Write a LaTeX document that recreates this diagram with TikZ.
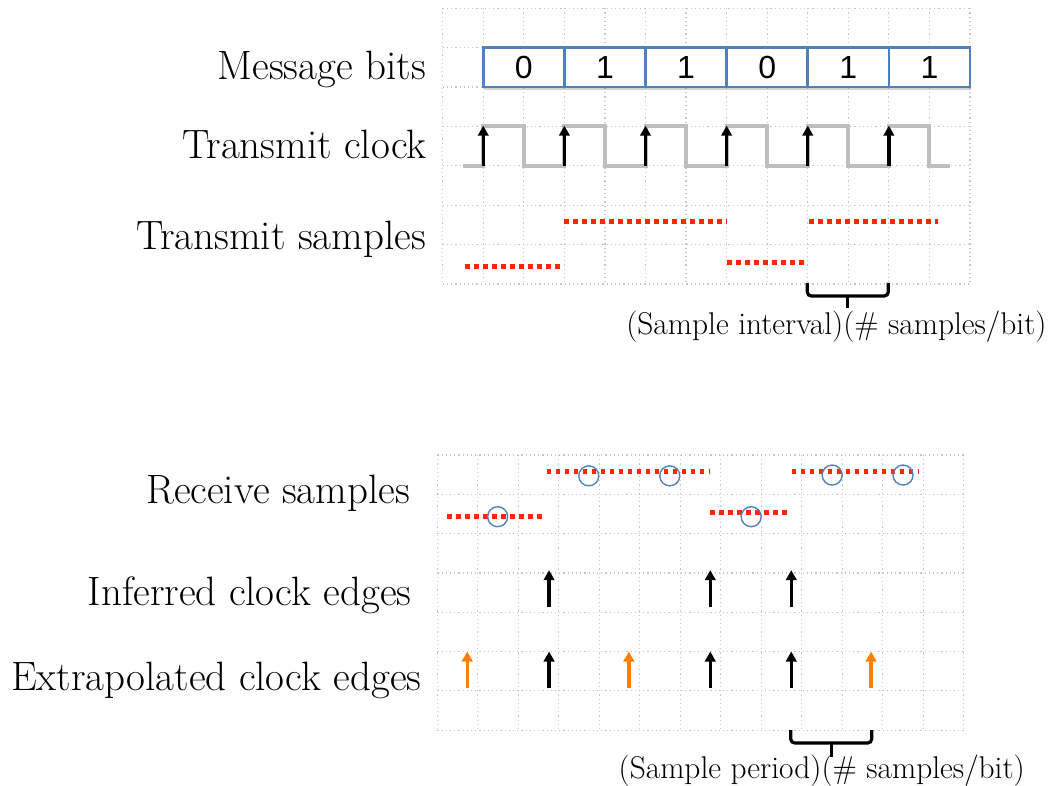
\documentclass[tikz,border=0pt]{standalone}
\usepackage{fontspec}
\newfontfamily\digitfont{Liberation Sans}
\usetikzlibrary{arrows.meta,shadows}
\definecolor{gridgray}{RGB}{198,198,198}
\definecolor{clockgray}{RGB}{190,190,190}
\definecolor{sampred}{RGB}{255,38,0}
\definecolor{boxblue}{RGB}{79,129,189}
\definecolor{ringblue}{RGB}{79,129,189}
\definecolor{edgeorange}{RGB}{255,128,0}
\tikzset{
  gridline/.style={line width=1.2pt, dash pattern=on 1.2pt off 3pt, color=gridgray},
  clockline/.style={line width=4pt, color=clockgray, line join=miter},
  edgearrow/.style={line width=3.3pt, -{Triangle[length=10pt,width=10.5pt]}},
  orangearrow/.style={edgearrow, color=edgeorange},
  samp/.style={line width=4.8pt, dash pattern=on 4.6pt off 4.4pt, color=sampred},
  ring/.style={draw=ringblue, line width=1.4pt},
  bracketline/.style={line width=3.2pt, rounded corners=4pt},
  rowlabel/.style={font=\fontsize{41}{44}\selectfont, anchor=base east, inner sep=0pt},
  notelabel/.style={font=\fontsize{31.4}{33}\selectfont, anchor=base east, inner sep=0pt},
  bitbox/.style={draw=boxblue, line width=2.5pt, fill=white, minimum width=81.12pt,
    minimum height=39.4pt, inner sep=0pt, font=\digitfont\fontsize{32}{32}\selectfont,
    drop shadow={shadow xshift=1pt, shadow yshift=-2.5pt, opacity=0.35}},
}
\begin{document}
\begin{tikzpicture}[x=1pt,y=-1pt]
\useasboundingbox (0,0) rectangle (1053,786);

% ---------- top panel ----------
\begin{scope}[shift={(442.7,8.3)}, x=40.56pt, y=-39.4pt]
  \foreach \i in {0,...,13} \draw[gridline] (\i,0) -- (\i,7);
  \foreach \j in {0,...,7} \draw[gridline] (0,\j) -- (13,\j);
  \foreach \b [count=\k from 0] in {0,1,1,0,1,1}
    \node[bitbox] (bit\k) at ({2*\k+2},1.5) {\b};
  \draw[clockline] (0.5,4) -| (1,3) -| (2,4) -| (3,3) -| (4,4) -| (5,3) -| (6,4)
    -| (7,3) -| (8,4) -| (9,3) -| (10,4) -| (11,3) -| (12,4) -- (12.5,4);
  \foreach \c in {1,3,...,11} \draw[edgearrow] (\c,4) -- (\c,2.98);
  \draw[samp] (0.55,6.56) -- (2.92,6.56);
  \draw[samp] (3.0,5.42) -- (7.02,5.42);
  \draw[samp] (7.02,6.45) -- (8.92,6.45);
  \draw[samp] (9.04,5.42) -- (12.2,5.42);
\end{scope}

\draw[bracketline] (807.3,283) -- (807.3,296) -- (888.3,296) -- (888.3,283);
\draw[line width=3.2pt] (847.8,296) -- (847.8,308.5);

\node[rowlabel] (lmsg) at (426,79.3) {Message bits};
\node[rowlabel] (ltxclk) at (426.7,158.3) {Transmit clock};
\node[rowlabel] (ltxsmp) at (426,249.3) {Transmit samples};
\node[notelabel] (linterval) at (1046.7,334.5) {(Sample interval)(\# samples/bit)};

% ---------- bottom panel ----------
\begin{scope}[shift={(437.3,455)}, x=40.5pt, y=-39.3pt]
  \foreach \i in {0,...,13} \draw[gridline] (\i,0) -- (\i,7);
  \foreach \j in {0,...,7} \draw[gridline] (0,\j) -- (13,\j);
  \draw[samp] (0.25,1.57) -- (2.62,1.57);
  \draw[samp] (2.7,0.425) -- (6.74,0.425);
  \draw[samp] (6.74,1.46) -- (8.63,1.46);
  \draw[samp] (8.75,0.425) -- (11.9,0.425);
  \foreach \cx/\cy in {1.49/1.57, 3.74/0.53, 5.74/0.53, 7.75/1.57, 9.75/0.51, 11.5/0.51}
    \draw[ring] (\cx,\cy) circle[radius=10pt];
  \foreach \c in {2.76,6.74,8.74} {
    \draw[edgearrow] (\c,3.88) -- (\c,2.93);
    \draw[edgearrow] (\c,5.93) -- (\c,5.0);
  }
  \foreach \c in {0.74,4.73,10.71}
    \draw[orangearrow] (\c,5.93) -- (\c,5.0);
\end{scope}

\draw[bracketline] (790.7,730) -- (790.7,743) -- (871.7,743) -- (871.7,730);
\draw[line width=3.2pt] (831.2,743) -- (831.2,756.7);

\node[rowlabel] (lrxsmp) at (410,503.3) {Receive samples};
\node[rowlabel] (linf) at (411.7,605) {Inferred clock edges};
\node[rowlabel] (lext) at (421.7,690) {Extrapolated clock edges};
\node[notelabel] (lperiod) at (1025,778) {(Sample period)(\# samples/bit)};
\end{tikzpicture}
\end{document}
